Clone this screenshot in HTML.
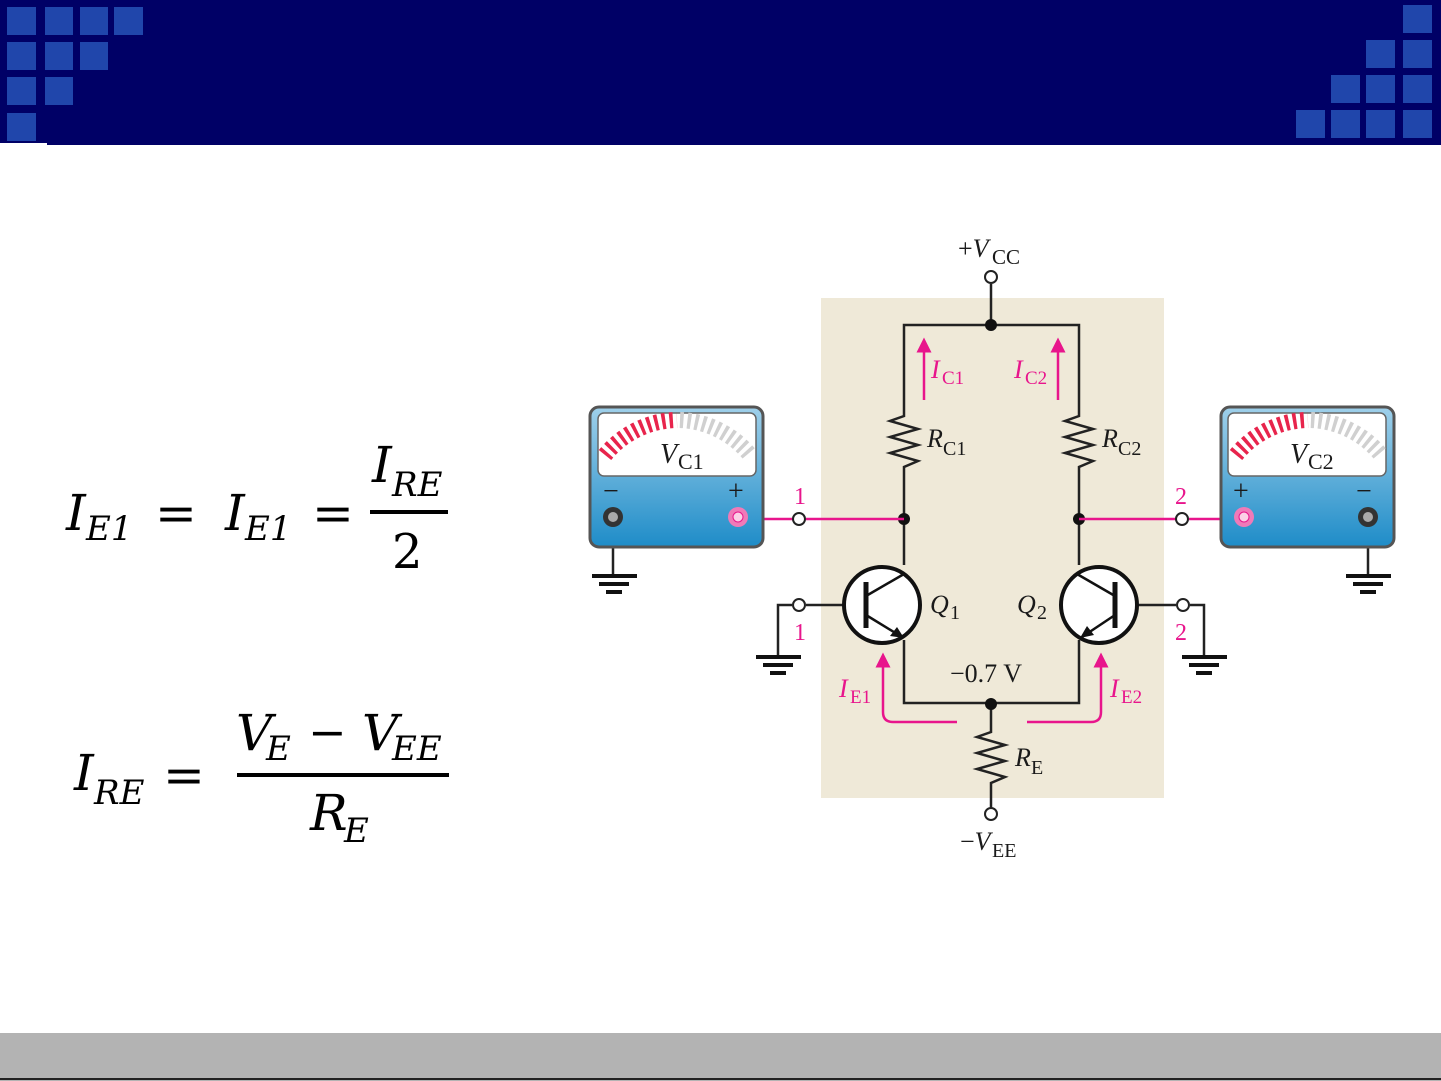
<!DOCTYPE html>
<html><head><meta charset="utf-8"><style>
html,body{margin:0;padding:0;background:#fff;}
body{width:1441px;height:1081px;overflow:hidden;position:relative;}
svg{position:absolute;left:0;top:0;}
</style></head><body>
<svg width="1441" height="1081" viewBox="0 0 1441 1081" font-family="Liberation Serif, serif">
<defs>
<linearGradient id="mg" x1="0" y1="0" x2="0" y2="1"><stop offset="0" stop-color="#9fd0ea"/><stop offset="1" stop-color="#1e8cc8"/></linearGradient>
<marker id="ah" viewBox="0 0 10 10" refX="5" refY="5" markerWidth="6" markerHeight="6" orient="auto"><path d="M0,0 L10,5 L0,10 z" fill="#e8158c"/></marker>
</defs>
<rect x="0" y="0" width="1441" height="145" fill="#000066"/>
<rect x="0" y="143" width="47" height="3" fill="#fff"/>
<g fill="#2046ab">
<rect x="7" y="7" width="29" height="28"/><rect x="45" y="7" width="28" height="28"/><rect x="80" y="7" width="28" height="28"/><rect x="114" y="7" width="29" height="28"/>
<rect x="7" y="42" width="29" height="28"/><rect x="45" y="42" width="28" height="28"/><rect x="80" y="42" width="28" height="28"/>
<rect x="7" y="77" width="29" height="28"/><rect x="45" y="77" width="28" height="28"/>
<rect x="7" y="113" width="29" height="28"/>
<rect x="1403" y="5" width="29" height="28"/>
<rect x="1366" y="40" width="29" height="28"/><rect x="1403" y="40" width="29" height="28"/>
<rect x="1331" y="75" width="29" height="28"/><rect x="1366" y="75" width="29" height="28"/><rect x="1403" y="75" width="29" height="28"/>
<rect x="1296" y="110" width="29" height="28"/><rect x="1331" y="110" width="29" height="28"/><rect x="1366" y="110" width="29" height="28"/><rect x="1403" y="110" width="29" height="28"/>
</g>
<rect x="0" y="1033" width="1441" height="48" fill="#b3b3b3"/>
<rect x="0" y="1078" width="1441" height="2" fill="#222"/>

<g font-family="DejaVu Serif, serif" font-style="italic" fill="#000">
<text x="66" y="530" font-size="50">I</text><text x="86" y="540" font-size="34">E1</text>
<text x="155" y="530" font-size="50" font-style="normal">=</text>
<text x="225" y="530" font-size="50">I</text><text x="245" y="540" font-size="34">E1</text>
<text x="312" y="530" font-size="50" font-style="normal">=</text>
<text x="372" y="482" font-size="50">I</text><text x="392" y="496" font-size="34">RE</text>
<rect x="370" y="510" width="78" height="4"/>
<text x="392" y="568" font-size="48" font-style="normal">2</text>
<text x="74" y="790" font-size="50">I</text><text x="94" y="804" font-size="34">RE</text>
<text x="163" y="792" font-size="50" font-style="normal">=</text>
<text x="236" y="750" font-size="50">V</text><text x="266" y="760" font-size="34">E</text>
<text x="308" y="748" font-size="46" font-style="normal">−</text>
<text x="362" y="750" font-size="50">V</text><text x="392" y="760" font-size="34">EE</text>
<rect x="237" y="773" width="212" height="4"/>
<text x="310" y="830" font-size="50">R</text><text x="344" y="842" font-size="34">E</text>
</g>

<rect x="821" y="298" width="343" height="500" fill="#efe9d8"/>
<g stroke="#222" stroke-width="2.5" fill="none">
<line x1="991" y1="284" x2="991" y2="325"/>
<polyline points="904,400 904,325 1079,325 1079,400"/>
<polyline points="904,400 904,416 890,421 918,429 890,437 918,445 890,453 918,461 904,467 904,565"/>
<polyline points="1079,400 1079,416 1065,421 1093,429 1065,437 1093,445 1065,453 1093,461 1079,467 1079,565"/>
<polyline points="904,640 904,703 1079,703 1079,640"/>
<polyline points="991,703 991,732 977,737 1005,745 977,753 1005,761 977,769 1005,777 991,783 991,808"/>
<line x1="806" y1="605" x2="844" y2="605"/>
<line x1="1138" y1="605" x2="1176" y2="605"/>
<polyline points="792,605 778,605 778,655"/>
<polyline points="1190,605 1204,605 1204,655"/>
<line x1="613" y1="525" x2="613" y2="574"/>
<line x1="1368" y1="525" x2="1368" y2="574"/>
</g>
<g fill="#111">
<circle cx="991" cy="325" r="6"/><circle cx="904" cy="519" r="6"/><circle cx="1079" cy="519" r="6"/><circle cx="991" cy="704" r="6"/>
<rect x="592" y="574" width="45" height="4"/><rect x="599" y="582" width="30" height="4"/><rect x="606" y="590" width="16" height="4"/>
<rect x="1346" y="574" width="45" height="4"/><rect x="1353" y="582" width="30" height="4"/><rect x="1360" y="590" width="16" height="4"/>
<rect x="756" y="655" width="45" height="4"/><rect x="763" y="663" width="30" height="4"/><rect x="770" y="671" width="16" height="4"/>
<rect x="1182" y="655" width="45" height="4"/><rect x="1189" y="663" width="30" height="4"/><rect x="1196" y="671" width="16" height="4"/>
</g>
<g stroke="#111" fill="#fff" stroke-width="4"><circle cx="882" cy="605" r="38"/><circle cx="1099" cy="605" r="38"/></g>
<g stroke="#111" stroke-width="2.5">
<line x1="866" y1="582" x2="866" y2="628" stroke-width="5"/><line x1="866" y1="596" x2="904" y2="574"/><line x1="866" y1="615" x2="902" y2="637"/>
<line x1="1115" y1="582" x2="1115" y2="628" stroke-width="5"/><line x1="1115" y1="596" x2="1077" y2="574"/><line x1="1115" y1="615" x2="1082" y2="637"/>
</g>
<path d="M904,638 L890,636 L897,627 z" fill="#111"/><path d="M1080,638 L1087,626 L1094,635 z" fill="#111"/>
<g stroke="#e8158c" stroke-width="2.5" fill="none">
<line x1="743" y1="519" x2="793" y2="519"/><line x1="806" y1="519" x2="904" y2="519"/>
<line x1="1079" y1="519" x2="1176" y2="519"/><line x1="1189" y1="519" x2="1238" y2="519"/>
<line x1="924" y1="400" x2="924" y2="345" marker-end="url(#ah)"/>
<line x1="1058" y1="400" x2="1058" y2="345" marker-end="url(#ah)"/>
<path d="M957,722 L893,722 Q883,722 883,712 L883,660" marker-end="url(#ah)"/>
<path d="M1027,722 L1091,722 Q1101,722 1101,712 L1101,660" marker-end="url(#ah)"/>
</g>
<g fill="#fff" stroke="#222" stroke-width="2">
<circle cx="991" cy="277" r="6"/><circle cx="799" cy="519" r="6"/><circle cx="1182" cy="519" r="6"/>
<circle cx="799" cy="605" r="6"/><circle cx="1183" cy="605" r="6"/><circle cx="991" cy="814" r="6"/>
</g>
<g>
<rect x="590" y="407" width="173" height="140" rx="9" fill="url(#mg)" stroke="#555" stroke-width="3"/>
<rect x="598" y="413" width="158" height="63" rx="6" fill="#fff" stroke="#666" stroke-width="1.5"/>
<rect x="1221" y="407" width="173" height="140" rx="9" fill="url(#mg)" stroke="#555" stroke-width="3"/>
<rect x="1228" y="413" width="158" height="63" rx="6" fill="#fff" stroke="#666" stroke-width="1.5"/>
<path d="M605,455 A95,95 0 0 1 677,420" stroke="#e8244c" stroke-width="16" stroke-dasharray="3.5 4" fill="none"/>
<path d="M680,420 A95,95 0 0 1 750,455" stroke="#d0d0d0" stroke-width="16" stroke-dasharray="3.5 4" fill="none"/>
<path d="M1236,455 A95,95 0 0 1 1308,420" stroke="#e8244c" stroke-width="16" stroke-dasharray="3.5 4" fill="none"/>
<path d="M1311,420 A95,95 0 0 1 1381,455" stroke="#d0d0d0" stroke-width="16" stroke-dasharray="3.5 4" fill="none"/>
<circle cx="613" cy="517" r="10" fill="#333"/><circle cx="613" cy="517" r="5" fill="#aaa"/>
<circle cx="738" cy="517" r="10" fill="#f07ab8"/><circle cx="738" cy="517" r="5" fill="#fbd0e6" stroke="#e8158c"/>
<circle cx="1368" cy="517" r="10" fill="#333"/><circle cx="1368" cy="517" r="5" fill="#aaa"/>
<circle cx="1244" cy="517" r="10" fill="#f07ab8"/><circle cx="1244" cy="517" r="5" fill="#fbd0e6" stroke="#e8158c"/>
</g>
<g fill="#1a1a1a" font-size="24">
<text x="603" y="500" font-size="28">−</text><text x="728" y="500" font-size="28">+</text>
<text x="1233" y="500" font-size="28">+</text><text x="1356" y="500" font-size="28">−</text>
<text x="660" y="463" font-style="italic" font-size="28">V</text><text x="678" y="469" font-size="22">C1</text>
<text x="1290" y="463" font-style="italic" font-size="28">V</text><text x="1308" y="469" font-size="22">C2</text>
<text x="958" y="257" font-size="26">+<tspan font-style="italic">V</tspan></text><text x="992" y="264" font-size="21">CC</text>
<text x="927" y="447" font-style="italic" font-size="26">R</text><text x="943" y="455" font-size="20">C1</text>
<text x="1102" y="447" font-style="italic" font-size="26">R</text><text x="1118" y="455" font-size="20">C2</text>
<text x="930" y="613" font-style="italic" font-size="26">Q</text><text x="950" y="619" font-size="20">1</text>
<text x="1017" y="613" font-style="italic" font-size="26">Q</text><text x="1037" y="619" font-size="20">2</text>
<text x="950" y="682" font-size="26">−0.7 V</text>
<text x="1015" y="766" font-style="italic" font-size="26">R</text><text x="1031" y="774" font-size="20">E</text>
<text x="960" y="850" font-size="26">−<tspan font-style="italic">V</tspan></text><text x="992" y="857" font-size="20">EE</text>
</g>
<g fill="#e8158c" font-size="24">
<text x="931" y="378" font-style="italic" font-size="26">I</text><text x="942" y="384" font-size="19">C1</text>
<text x="1014" y="378" font-style="italic" font-size="26">I</text><text x="1025" y="384" font-size="19">C2</text>
<text x="839" y="697" font-style="italic" font-size="26">I</text><text x="850" y="703" font-size="19">E1</text>
<text x="1110" y="697" font-style="italic" font-size="26">I</text><text x="1121" y="703" font-size="19">E2</text>
<text x="794" y="504">1</text><text x="794" y="640">1</text>
<text x="1175" y="504">2</text><text x="1175" y="640">2</text>
</g>
</svg>
</body></html>
